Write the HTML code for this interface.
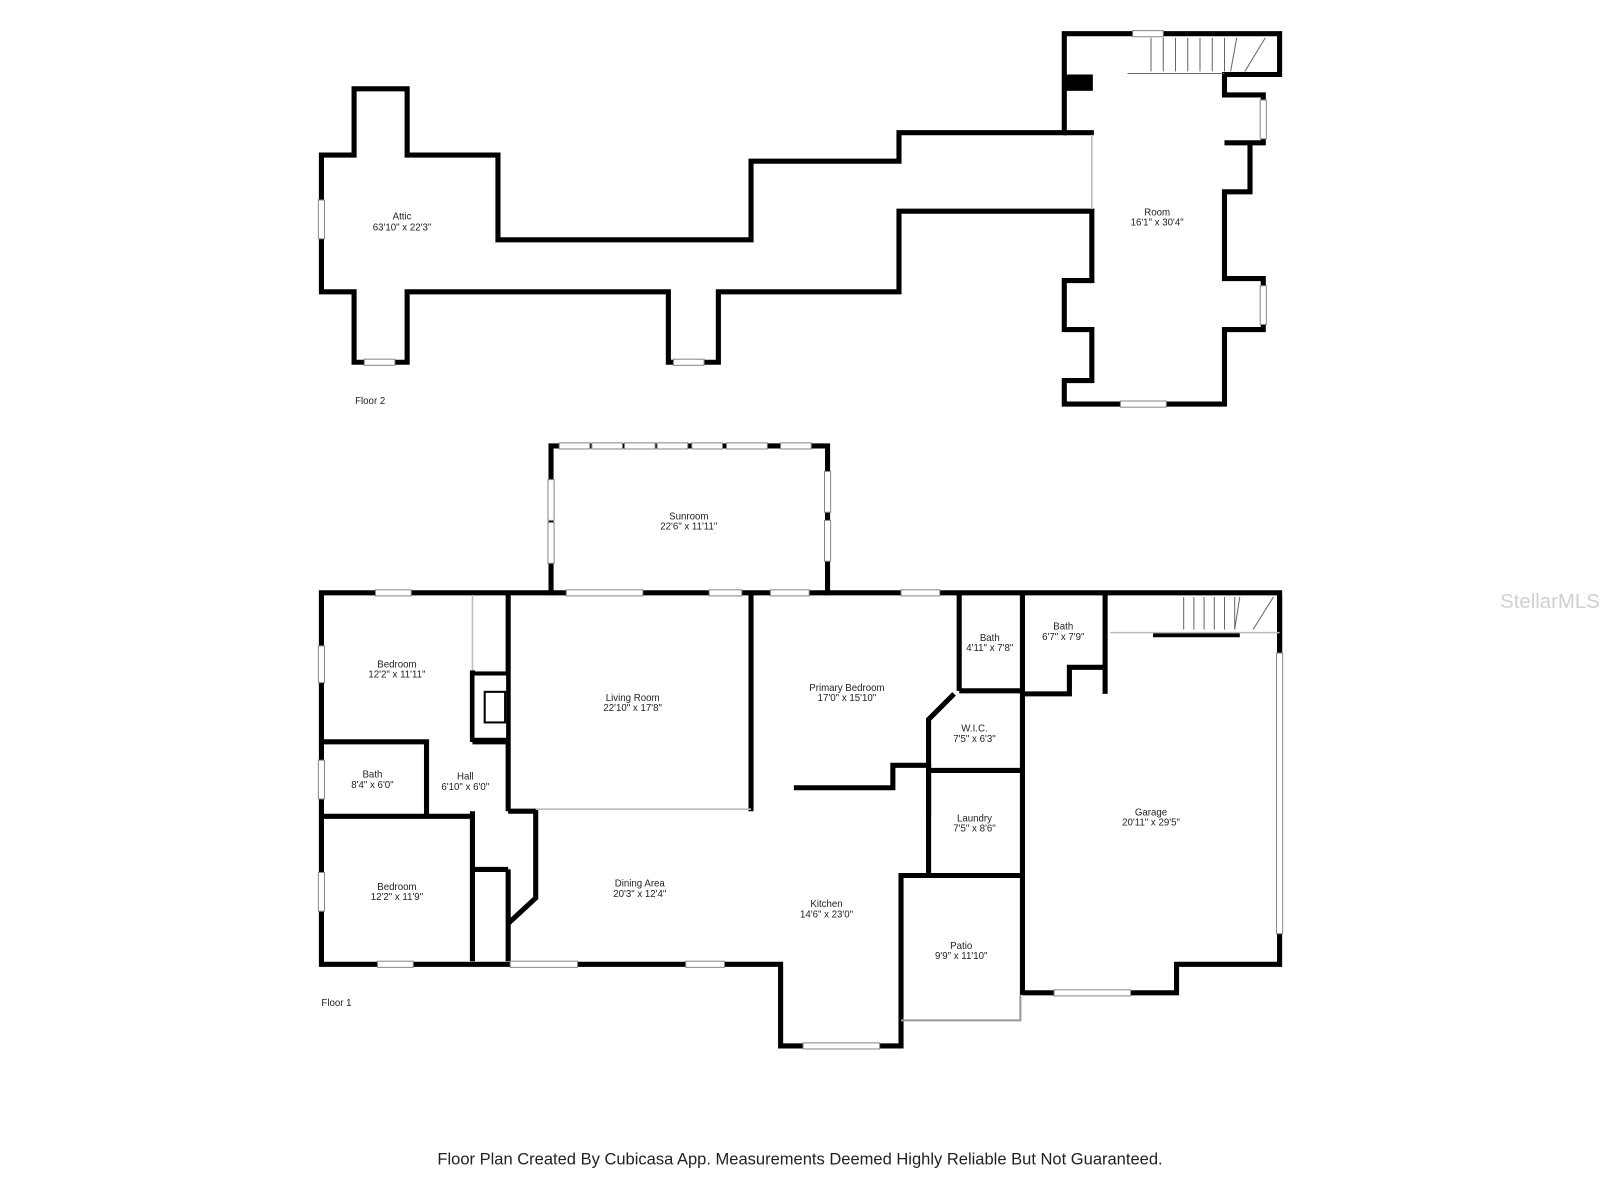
<!DOCTYPE html>
<html><head><meta charset="utf-8"><style>
html,body{margin:0;padding:0;background:#fff;}
svg{display:block}
text{font-family:"Liberation Sans","DejaVu Sans",sans-serif;fill:#222;}
</style></head><body>
<svg width="1600" height="1200" viewBox="0 0 1568 1176" xmlns="http://www.w3.org/2000/svg">
<rect width="1568" height="1176" fill="#fff"/>
<g fill="none" stroke="#000" stroke-width="5" stroke-linejoin="miter">
<!-- Floor 2 -->
<polygon points="315,152 347,152 347,87 399,87 399,152 488,152 488,235 736,235 736,158 881,158 881,130 1043,130 1043,33 1254,33 1254,73 1200,73 1200,93 1238,93 1238,140 1200,140 1225,140 1225,188 1200,188 1200,273 1238,273 1238,323 1200,323 1200,396 1043,396 1043,373 1070,373 1070,323 1043,323 1043,275 1070,275 1070,207 881,207 881,286 704,286 704,355 655,355 655,286 399,286 399,355 347,355 347,286 315,286"/>
<line x1="1043" y1="130" x2="1072" y2="130"/>
<!-- Floor 1 outline -->
<polyline points="1002,975 1002,973 1153,973 1153,945 1254,945 1254,581 811,581 811,437 540,437 540,581 315,581 315,945 765,945 765,1025 883,1025 883,858 1002,858 1002,975"/>
<line x1="540" y1="581" x2="811" y2="581"/>
<!-- interior -->
<polyline points="315,727 418,727 418,800"/>
<line x1="315" y1="800" x2="465" y2="800"/>
<line x1="498" y1="581" x2="498" y2="795"/>
<line x1="463" y1="657" x2="463" y2="727"/>
<line x1="463" y1="795" x2="463" y2="942"/>
<line x1="498" y1="852" x2="498" y2="942"/>
<line x1="463" y1="852" x2="498" y2="852"/>
<polyline points="498,795 525,795 525,880 498,905"/>
<line x1="463" y1="727" x2="498" y2="727"/>
<line x1="736" y1="581" x2="736" y2="795"/>
<polyline points="778,772 875,772 875,750 910,750 910,858"/>
<line x1="940" y1="581" x2="940" y2="677"/>
<line x1="940" y1="677" x2="1002" y2="677"/>
<line x1="1002" y1="581" x2="1002" y2="858"/>
<line x1="1083" y1="581" x2="1083" y2="680"/>
<polyline points="1002,680 1048,680 1048,654 1083,654"/>
<polyline points="910,800 910,705 935,680"/>
<line x1="910" y1="755" x2="1002" y2="755"/>
<line x1="1130" y1="622" x2="1215" y2="622"/>
<line x1="1254" y1="583" x2="1254" y2="640"/>
</g>
<g stroke="#bbb" stroke-width="1.5" fill="none">
<line x1="1070" y1="132" x2="1070" y2="205"/>
<line x1="525" y1="793" x2="736" y2="793"/>
<line x1="463" y1="583" x2="463" y2="657"/>
<line x1="1088" y1="620" x2="1254" y2="620"/>
</g>
<!-- fireplace -->
<rect x="463" y="660" width="35" height="65" fill="#fff" stroke="#000" stroke-width="4"/>
<rect x="475" y="678" width="20" height="30" fill="#fff" stroke="#000" stroke-width="2"/>
<!-- patio -->
<polyline points="883,1000 1000,1000 1000,975" fill="none" stroke="#999" stroke-width="2"/>
<rect x="1043" y="73" width="28" height="16" fill="#000"/>
<!-- stairs -->
<g stroke="#666" stroke-width="1" fill="none">
<path d="M1128,37 V70 M1140,37 V70 M1152,37 V70 M1164,37 V70 M1176,37 V70 M1188,37 V70 M1200,37 V70 M1212,37 L1206,70 M1240,37 L1220,70 M1105,72 H1200"/>
<path d="M1160,585 V617 M1170,585 V617 M1180,585 V617 M1190,585 V617 M1200,585 V617 M1210,585 V617 L1215,585 M1248,585 L1228,617"/>
</g>
<!-- windows (gaps) -->
<g fill="#fff" stroke="#888" stroke-width="1">
<rect x="1110" y="30" width="30" height="6"/><rect x="1098" y="393" width="45" height="6"/>
<rect x="1235" y="98" width="6" height="38"/><rect x="1235" y="280" width="6" height="38"/>
<rect x="312" y="196" width="6" height="38"/><rect x="357" y="352" width="30" height="6"/><rect x="660" y="352" width="30" height="6"/>
<rect x="548" y="434" width="30" height="6"/><rect x="580" y="434" width="30" height="6"/><rect x="612" y="434" width="30" height="6"/><rect x="644" y="434" width="30" height="6"/><rect x="678" y="434" width="30" height="6"/><rect x="712" y="434" width="40" height="6"/><rect x="765" y="434" width="30" height="6"/>
<rect x="537" y="470" width="6" height="40"/><rect x="537" y="512" width="6" height="40"/>
<rect x="808" y="462" width="6" height="40"/><rect x="808" y="510" width="6" height="40"/>
<rect x="368" y="578" width="35" height="6"/><rect x="555" y="578" width="75" height="6"/><rect x="695" y="578" width="32" height="6"/>
<rect x="755" y="578" width="38" height="6"/><rect x="883" y="578" width="38" height="6"/>
<rect x="312" y="633" width="6" height="36"/><rect x="312" y="745" width="6" height="38"/><rect x="312" y="855" width="6" height="38"/>
<rect x="370" y="942" width="35" height="6"/><rect x="500" y="942" width="66" height="6"/><rect x="672" y="942" width="38" height="6"/>
<rect x="787" y="1022" width="75" height="6"/><rect x="1033" y="970" width="75" height="6"/>
<rect x="1251" y="640" width="6" height="275"/>
</g>
<g font-size="9.5" text-anchor="middle">
<text x="394" y="215">Attic</text><text x="394" y="226">63'10" x 22'3"</text>
<text x="1134" y="211">Room</text><text x="1134" y="221">16'1" x 30'4"</text>
<text x="675" y="509">Sunroom</text><text x="675" y="519">22'6" x 11'11"</text>
<text x="389" y="654">Bedroom</text><text x="389" y="664">12'2" x 11'11"</text>
<text x="620" y="687">Living Room</text><text x="620" y="697">22'10" x 17'8"</text>
<text x="830" y="677">Primary Bedroom</text><text x="830" y="687">17'0" x 15'10"</text>
<text x="970" y="628">Bath</text><text x="970" y="638">4'11" x 7'8"</text>
<text x="1042" y="617">Bath</text><text x="1042" y="627">6'7" x 7'9"</text>
<text x="955" y="717">W.I.C.</text><text x="955" y="727">7'5" x 6'3"</text>
<text x="365" y="762">Bath</text><text x="365" y="772">8'4" x 6'0"</text>
<text x="456" y="764">Hall</text><text x="456" y="774">6'10" x 6'0"</text>
<text x="955" y="805">Laundry</text><text x="955" y="815">7'5" x 8'6"</text>
<text x="1128" y="799">Garage</text><text x="1128" y="809">20'11" x 29'5"</text>
<text x="627" y="869">Dining Area</text><text x="627" y="879">20'3" x 12'4"</text>
<text x="810" y="889">Kitchen</text><text x="810" y="899">14'6" x 23'0"</text>
<text x="389" y="872">Bedroom</text><text x="389" y="882">12'2" x 11'9"</text>
<text x="942" y="930">Patio</text><text x="942" y="940">9'9" x 11'10"</text>
</g>
<text x="348" y="396" font-size="9.5">Floor 2</text>
<text x="315" y="986" font-size="9.5">Floor 1</text>
<text x="784" y="1141" font-size="16.2" text-anchor="middle">Floor Plan Created By Cubicasa App. Measurements Deemed Highly Reliable But Not Guaranteed.</text>
<text x="1519" y="596" font-size="20" text-anchor="middle" style="fill:#d0d0d0">StellarMLS</text>
</svg>
</body></html>
